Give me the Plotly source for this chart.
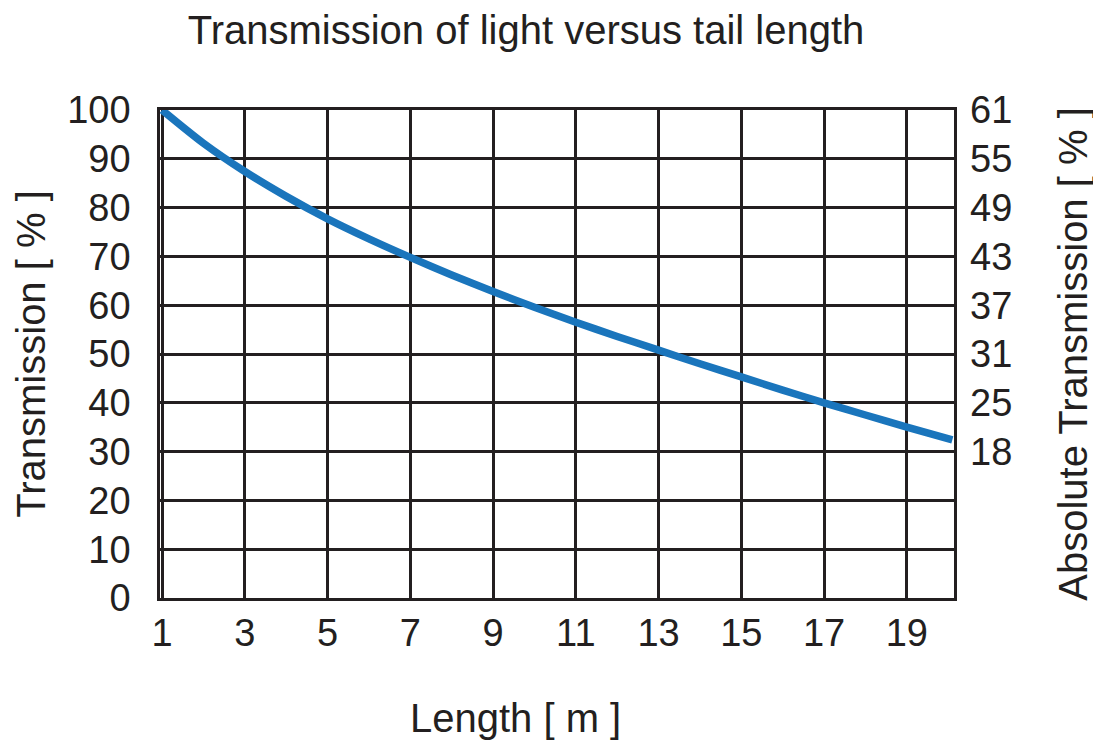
import plotly.graph_objects as go

# Data
length_m = [1, 2, 3, 4, 5, 6, 7, 8, 9, 10, 11, 12, 13, 14, 15, 16, 17, 18, 19, 20.1]
transmission_pct = [100, 93.2, 87.4, 82.3, 77.7, 73.6, 69.8, 66.2, 62.8, 59.6,
                    56.5, 53.6, 50.8, 48.0, 45.3, 42.6, 40.0, 37.5, 35.0, 32.4]

x_ticks = [1, 3, 5, 7, 9, 11, 13, 15, 17, 19]
y_ticks = [0, 10, 20, 30, 40, 50, 60, 70, 80, 90, 100]
abs_tick_pos = [100, 90, 80, 70, 60, 50, 40, 30]
abs_tick_labels = ["61", "55", "49", "43", "37", "31", "25", "18"]

FONT = "Liberation Sans Narrow, Arial Narrow, Liberation Sans, Arial, sans-serif"
INK = "#231f20"
BLUE = "#1a75bc"

# the page body adds an 8 px margin, so the figure is 8 px smaller than the window
W, H = 1093, 737
L, T = 152, 102
PW, PH = 794, 488

fig = go.Figure()
fig.add_trace(go.Scatter(x=length_m, y=transmission_pct, mode="lines",
                         line=dict(color=BLUE, width=7.5, shape="spline", smoothing=0.8),
                         showlegend=False, hoverinfo="x+y"))
# invisible trace for the right axis
fig.add_trace(go.Scatter(x=[length_m[0]], y=[transmission_pct[0]], yaxis="y2",
                         mode="markers", marker=dict(opacity=0), showlegend=False,
                         hoverinfo="skip"))

fig.update_layout(
    width=W, height=H,
    margin=dict(l=L, r=W - L - PW, t=T, b=H - T - PH),
    paper_bgcolor="white", plot_bgcolor="white",
    font=dict(family=FONT, size=38, color=INK),
    title=dict(text="Transmission of light versus tail length", x=(526 - 8) / W,
               xanchor="center", y=1, yanchor="top", yref="container",
               pad=dict(t=8, b=0),
               font=dict(family=FONT, size=40, color=INK)),
    xaxis=dict(range=[0.95, 20.14], tickvals=x_ticks, showgrid=True, gridcolor=INK,
               gridwidth=2.5, showline=True, linecolor=INK, linewidth=2.5, mirror=True,
               zeroline=False, ticks="", ticklabelstandoff=0, automargin=False,
               tickfont=dict(size=38)),
    yaxis=dict(range=[0, 100], tickvals=y_ticks, showgrid=True, gridcolor=INK,
               gridwidth=2.5, showline=True, linecolor=INK, linewidth=2.5, mirror=True,
               zeroline=False, ticks="", ticklabelstandoff=19, automargin=False,
               tickfont=dict(size=38),
               title=dict(text="Transmission [ % ]", standoff=10, font=dict(size=40))),
    yaxis2=dict(range=[0, 100], overlaying="y", side="right", tickvals=abs_tick_pos,
                ticktext=abs_tick_labels, showgrid=False, zeroline=False, showline=False,
                ticks="", ticklabelstandoff=15, automargin=False, tickfont=dict(size=38),
                title=dict(text="Absolute Transmission [ % ]", standoff=47, font=dict(size=40))),
    annotations=[dict(text="Length [ m ]", xref="paper", yref="paper",
                      x=(515 - 8 - L) / PW, y=-(718 - 8 - T - PH) / PH,
                      xanchor="center", yanchor="middle",
                      showarrow=False, font=dict(family=FONT, size=40, color=INK))],
)

fig.write_html("out.html")
